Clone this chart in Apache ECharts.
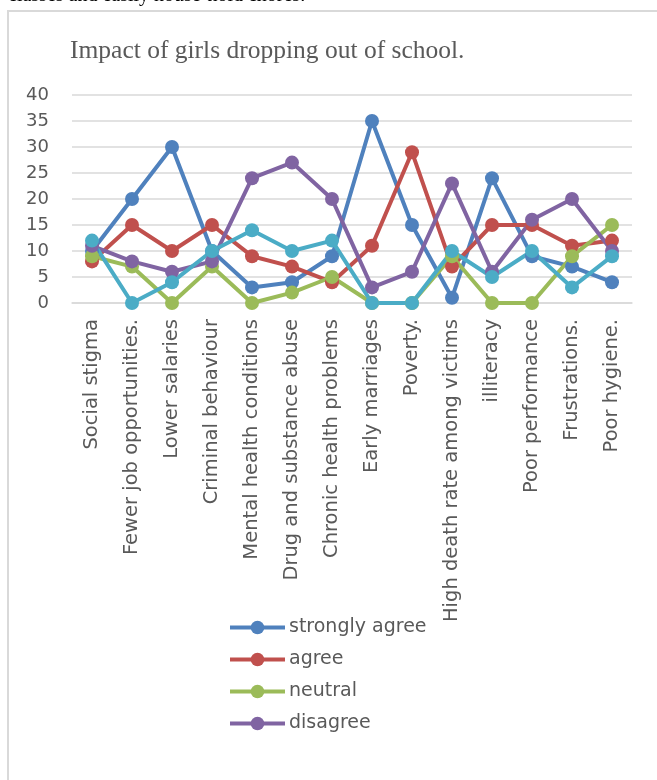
<!DOCTYPE html>
<html>
<head>
<meta charset="utf-8">
<script src="https://cdn.jsdelivr.net/npm/echarts@6/dist/echarts.min.js"></script>
<style>
  html, body { margin: 0; padding: 0; background: #fff; }
  #chart { width: 657px; height: 780px; }
</style>
</head>
<body>
<div id="chart"></div>
<script>
const categories = [
  "Social stigma", "Fewer job opportunities.", "Lower salaries", "Criminal behaviour",
  "Mental health conditions", "Drug and substance abuse", "Chronic health problems",
  "Early marriages", "Poverty.", "High death rate among victims", "illiteracy",
  "Poor performance", "Frustrations.", "Poor hygiene."
];
const stronglyAgree = [10, 20, 30, 10, 3, 4, 9, 35, 15, 1, 24, 9, 7, 4];
const agree = [8, 15, 10, 15, 9, 7, 4, 11, 29, 7, 15, 15, 11, 12];
const neutral = [9, 7, 0, 7, 0, 2, 5, 0, 0, 9, 0, 0, 9, 15];
const disagree = [11, 8, 6, 8, 24, 27, 20, 3, 6, 23, 6, 16, 20, 10];
// fifth series, not listed in the legend
const unlabeled = [12, 0, 4, 10, 14, 10, 12, 0, 0, 10, 5, 10, 3, 9];

const chart = echarts.init(document.getElementById("chart"));

const makeLine = (name, data, color) => ({
  name,
  type: "line",
  data,
  symbol: "circle",
  symbolSize: 14,
  lineStyle: { width: 4, color },
  itemStyle: { color },
});

const option = {
  animation: false,
  textStyle: { fontFamily: "DejaVu Sans" },
  title: {
    text: "Impact of girls dropping out of school.",
    left: 65,
    top: 33,
    textStyle: {
      fontFamily: "Liberation Serif",
      fontSize: 25.5,
      fontWeight: "normal",
      color: "#595959",
    },
  },
  graphic: [
    {
      type: "rect",
      shape: { x: 8, y: 11, width: 720, height: 800 },
      style: { fill: null, stroke: "#D9D9D9", lineWidth: 2 },
    },
    {
      type: "text",
      left: 8,
      top: -14,
      style: {
        text: "classes and easily house-hold chores.",
        font: "20px 'Liberation Serif'",
        fill: "#000",
      },
    },
  ],
  legend: {
    orient: "vertical",
    left: 223,
    top: 613,
    itemWidth: 55,
    itemHeight: 17,
    itemGap: 13,
    data: ["strongly agree", "agree", "neutral", "disagree"],
    lineStyle: { width: 4 },
    textStyle: { fontSize: 19, color: "#595959", padding: [0, 0, 0, -1] },
  },
  grid: {
    left: 72,
    right: 25,
    top: 95,
    bottom: 477,
  },
  xAxis: {
    type: "category",
    data: categories,
    axisLine: { lineStyle: { color: "#D9D9D9", width: 1.5 } },
    axisTick: { show: false },
    axisLabel: {
      rotate: 90,
      interval: 0,
      fontSize: 19.5,
      color: "#595959",
      margin: 16,
    },
  },
  yAxis: {
    type: "value",
    min: 0,
    max: 40,
    interval: 5,
    axisLine: { show: false },
    axisTick: { show: false },
    splitLine: { lineStyle: { color: "#D9D9D9", width: 1.5 } },
    axisLabel: { fontSize: 18, color: "#595959", margin: 23 },
  },
  series: [
    makeLine("strongly agree", stronglyAgree, "#4F81BD"),
    makeLine("agree", agree, "#C0504D"),
    makeLine("neutral", neutral, "#9BBB59"),
    makeLine("disagree", disagree, "#8064A2"),
    makeLine("other", unlabeled, "#4BACC6"),
  ],
};

chart.setOption(option);
window.addEventListener("resize", () => chart.resize());
</script>
</body>
</html>
